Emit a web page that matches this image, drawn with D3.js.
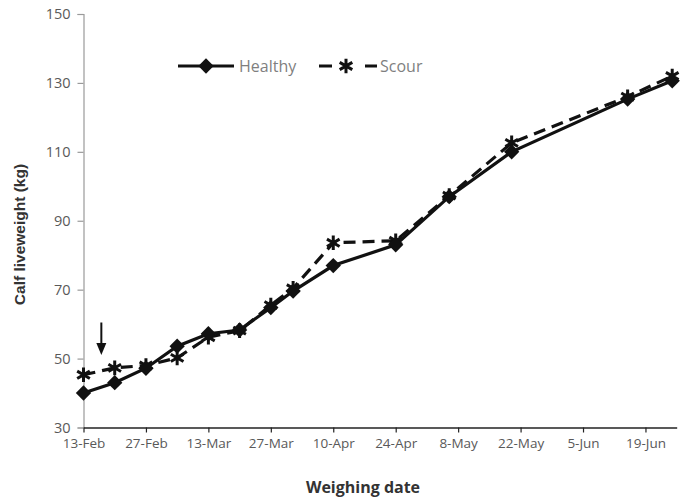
<!DOCTYPE html>
<html>
<head>
<meta charset="utf-8">
<script src="https://cdn.jsdelivr.net/npm/d3@7"></script>
<style>
  body { margin: 0; background: #fff; }
  text { font-family: "Open Sans", sans-serif; }
</style>
</head>
<body>
<svg id="chart"></svg>
<script>
(function () {
    // weighing dates (2014, non-leap)
    const healthyDates = ['2014-02-13', '2014-02-20', '2014-02-27', '2014-03-06', '2014-03-13', '2014-03-20',
        '2014-03-27', '2014-04-01', '2014-04-10', '2014-04-24', '2014-05-06', '2014-05-20', '2014-06-15', '2014-06-25'];
    const healthyValues = [40, 43, 47.2, 53.6, 57.2, 58.3, 64.8, 69.6, 77, 83, 97, 110, 125.3, 130.6];

    const scourDates = healthyDates;
    const scourValues = [45.3, 47.3, 48, 50.2, 56.2, 58.1, 65.5, 70.4, 83.6, 84.2, 97.3, 112.6, 126, 132];

    const tickDates = ['2014-02-13', '2014-02-27', '2014-03-13', '2014-03-27', '2014-04-10', '2014-04-24',
        '2014-05-08', '2014-05-22', '2014-06-05', '2014-06-19'];
    const yTicks = [30, 50, 70, 90, 110, 130, 150];

    const width = 680;
    const height = 497;
    const parse = d3.utcParse('%Y-%m-%d');
    const fmt = d3.utcFormat('%-d-%b');

    const healthy = healthyDates.map((d, i) => ({ date: parse(d), y: healthyValues[i] }));
    const scour = scourDates.map((d, i) => ({ date: parse(d), y: scourValues[i] }));

    const x0 = 83.5;
    const pxPerDay = 4.46;
    const xScale = d3.scaleUtc()
        .domain([parse('2014-02-13'), parse('2014-06-26')])
        .range([x0, x0 + pxPerDay * 133]);

    const yScale = d3.scaleLinear()
        .domain([30, 150])
        .range([427.5, 14]);

    const svg = d3.select('#chart')
        .attr('width', width)
        .attr('height', height);

    // y axis
    const yAxis = svg.append('g')
        .attr('transform', `translate(${x0},0)`)
        .call(d3.axisLeft(yScale).tickValues(yTicks).tickSize(6).tickPadding(7));
    yAxis.select('.domain').attr('stroke', '#9a9a9a').attr('stroke-width', 1.2);
    yAxis.selectAll('.tick line').attr('stroke', '#9a9a9a').attr('stroke-width', 1.2);
    yAxis.selectAll('.tick text').attr('fill', '#595959').style('font-size', '14.5px');

    // x axis
    const xAxis = svg.append('g')
        .attr('transform', `translate(0,${yScale(30)})`)
        .call(d3.axisBottom(xScale).tickValues(tickDates.map(parse)).tickFormat(fmt).tickSizeInner(5).tickSizeOuter(0).tickPadding(6));
    xAxis.select('.domain').attr('stroke', '#222').attr('stroke-width', 1.5);
    xAxis.selectAll('.tick line').attr('stroke', '#222').attr('stroke-width', 1.2);
    xAxis.selectAll('.tick text').attr('fill', '#595959').style('font-size', '13.5px');

    // axis titles
    svg.append('text')
        .attr('transform', `translate(25,${yScale(86)}) rotate(-90)`)
        .attr('text-anchor', 'middle')
        .attr('fill', '#333')
        .style('font-family', '"Liberation Sans", Arial, sans-serif')
        .style('font-size', '15.5px')
        .style('font-weight', 'bold')
        .text('Calf liveweight (kg)');

    svg.append('text')
        .attr('x', 363)
        .attr('y', 493)
        .attr('text-anchor', 'middle')
        .attr('fill', '#333')
        .style('font-size', '16px')
        .style('font-weight', 'bold')
        .text('Weighing date');

    const line = d3.line()
        .x(d => xScale(d.date))
        .y(d => yScale(d.y));

    const asterisk = d3.symbol().type(d3.symbolAsterisk).size(150);
    const diamond = d3.symbol().type(d3.symbolDiamond2).size(150);

    // scour series
    svg.append('path')
        .datum(scour)
        .attr('d', line)
        .attr('fill', 'none')
        .attr('stroke', '#111')
        .attr('stroke-width', 3.2)
        .attr('stroke-dasharray', '12,7');

    svg.selectAll('.scour-pt')
        .data(scour)
        .join('path')
        .attr('class', 'scour-pt')
        .attr('transform', d => `translate(${xScale(d.date)},${yScale(d.y)})`)
        .attr('d', asterisk)
        .attr('fill', 'none')
        .attr('stroke', '#111')
        .attr('stroke-width', 3);

    // healthy series
    svg.append('path')
        .datum(healthy)
        .attr('d', line)
        .attr('fill', 'none')
        .attr('stroke', '#111')
        .attr('stroke-width', 3.2);

    svg.selectAll('.healthy-pt')
        .data(healthy)
        .join('path')
        .attr('class', 'healthy-pt')
        .attr('transform', d => `translate(${xScale(d.date)},${yScale(d.y)})`)
        .attr('d', diamond)
        .attr('fill', '#111');

    // arrow marking scour onset
    const arrowDate = parse('2014-02-17');
    const ax = xScale(arrowDate);
    svg.append('line')
        .attr('x1', ax).attr('x2', ax)
        .attr('y1', 322.5).attr('y2', 345)
        .attr('stroke', '#111')
        .attr('stroke-width', 2);
    svg.append('path')
        .attr('d', `M${ax - 5},343L${ax + 5},343L${ax},355Z`)
        .attr('fill', '#111');

    // legend
    const legend = svg.append('g');
    legend.append('line')
        .attr('x1', 178).attr('x2', 234).attr('y1', 66).attr('y2', 66)
        .attr('stroke', '#111').attr('stroke-width', 3);
    legend.append('path')
        .attr('transform', 'translate(206,66)')
        .attr('d', diamond)
        .attr('fill', '#111');
    legend.append('text')
        .attr('x', 239).attr('y', 72)
        .attr('fill', '#7f7f7f')
        .style('font-size', '16px')
        .text('Healthy');

    legend.append('line')
        .attr('x1', 319).attr('x2', 377).attr('y1', 66).attr('y2', 66)
        .attr('stroke', '#111').attr('stroke-width', 3)
        .attr('stroke-dasharray', '13,33');
    legend.append('path')
        .attr('transform', 'translate(346,66)')
        .attr('d', asterisk)
        .attr('fill', 'none')
        .attr('stroke', '#111')
        .attr('stroke-width', 3);
    legend.append('text')
        .attr('x', 380).attr('y', 72)
        .attr('fill', '#7f7f7f')
        .style('font-size', '16px')
        .text('Scour');
})();
</script>
</body>
</html>
